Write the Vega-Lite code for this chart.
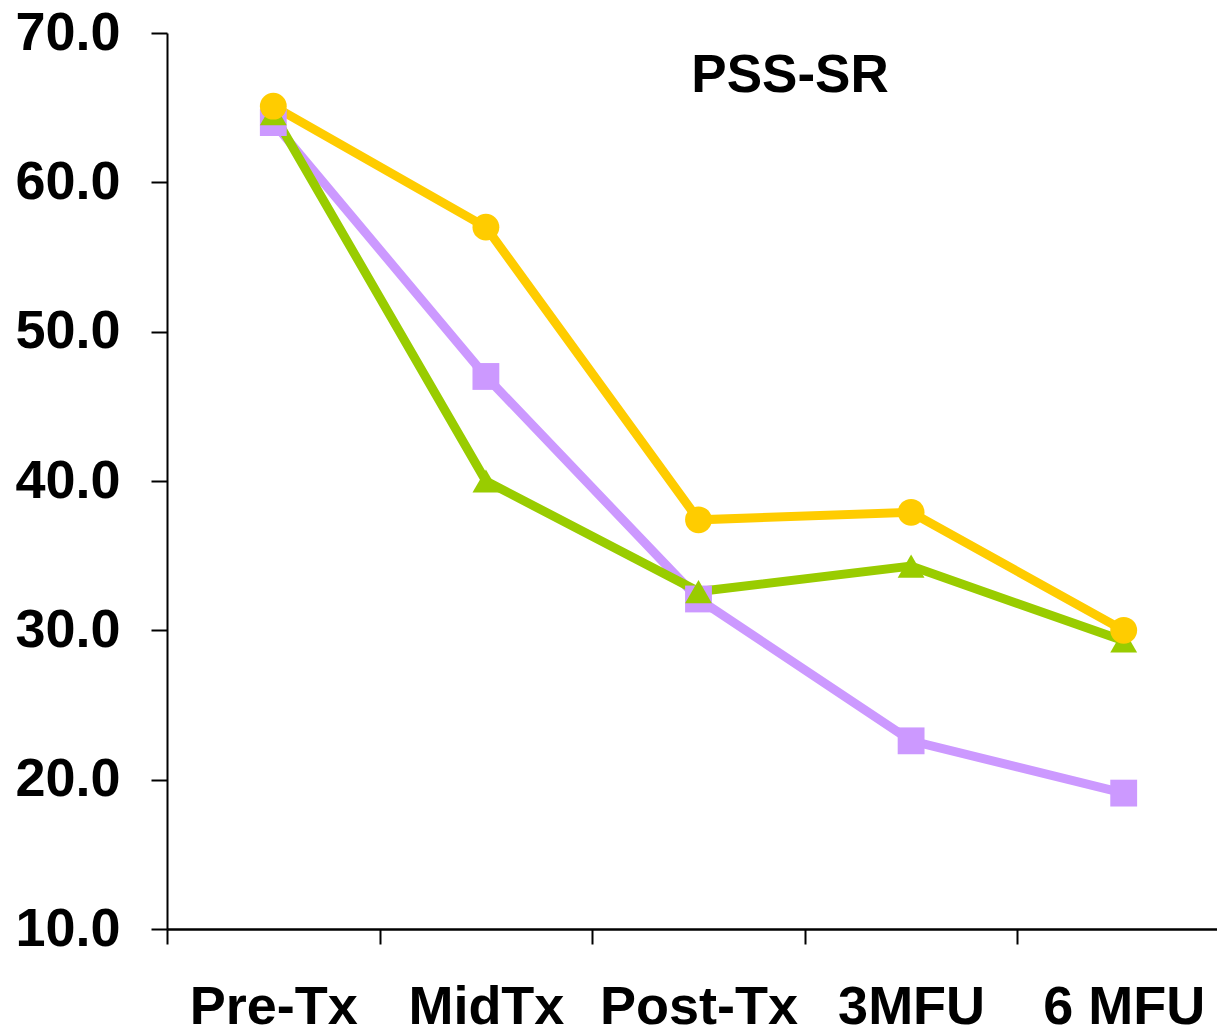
{
  "$schema": "https://vega.github.io/schema/vega-lite/v6.json",
  "width": 1050,
  "height": 896,
  "autosize": {"type": "none"},
  "padding": {"left": 167, "top": 33, "right": 0, "bottom": 106},
  "background": "white",
  "config": {"view": {"stroke": null}},
  "title": {
    "text": "PSS-SR",
    "font": "Liberation Sans",
    "fontSize": 53,
    "fontWeight": "bold",
    "color": "black",
    "anchor": "middle",
    "baseline": "alphabetic",
    "dx": 98,
    "offset": -139
  },
  "data": {
    "values": [
      {"time": "Pre-Tx", "group": "Series 1", "score": 64.0},
      {"time": "MidTx", "group": "Series 1", "score": 47.0},
      {"time": "Post-Tx", "group": "Series 1", "score": 32.1},
      {"time": "3MFU", "group": "Series 1", "score": 22.6},
      {"time": "6 MFU", "group": "Series 1", "score": 19.1},
      {"time": "Pre-Tx", "group": "Series 2", "score": 64.6},
      {"time": "MidTx", "group": "Series 2", "score": 40.0},
      {"time": "Post-Tx", "group": "Series 2", "score": 32.6},
      {"time": "3MFU", "group": "Series 2", "score": 34.3},
      {"time": "6 MFU", "group": "Series 2", "score": 29.3},
      {"time": "Pre-Tx", "group": "Series 3", "score": 65.1},
      {"time": "MidTx", "group": "Series 3", "score": 57.0},
      {"time": "Post-Tx", "group": "Series 3", "score": 37.4},
      {"time": "3MFU", "group": "Series 3", "score": 37.9},
      {"time": "6 MFU", "group": "Series 3", "score": 30.0}
    ]
  },
  "encoding": {
    "x": {
      "field": "time",
      "type": "nominal",
      "sort": ["Pre-Tx", "MidTx", "Post-Tx", "3MFU", "6 MFU"],
      "scale": {"type": "band", "range": [0, 1063], "paddingInner": 0, "paddingOuter": 0},
      "axis": {
        "title": null,
        "tickBand": "extent",
        "labelAngle": 0,
        "labelFont": "Liberation Sans",
        "labelFontSize": 54,
        "labelFontWeight": "bold",
        "labelColor": "black",
        "labelPadding": 36,
        "labelLimit": 0,
        "tickSize": 15,
        "tickWidth": 2,
        "tickColor": "black",
        "domainColor": "black",
        "domainWidth": 2.5,
        "grid": false
      }
    },
    "y": {
      "field": "score",
      "type": "quantitative",
      "scale": {"domain": [10, 70], "nice": false, "zero": false},
      "axis": {
        "title": null,
        "values": [10, 20, 30, 40, 50, 60, 70],
        "format": ".1f",
        "labelFont": "Liberation Sans",
        "labelFontSize": 54,
        "labelFontWeight": "bold",
        "labelColor": "black",
        "labelPadding": 31,
        "labelLimit": 0,
        "tickSize": 16,
        "tickWidth": 2,
        "tickColor": "black",
        "domainColor": "black",
        "domainWidth": 2,
        "grid": false
      }
    },
    "color": {
      "field": "group",
      "type": "nominal",
      "scale": {"domain": ["Series 1", "Series 2", "Series 3"], "range": ["#CC99FF", "#99CC00", "#FFCC00"]},
      "legend": null
    }
  },
  "layer": [
    {"mark": {"type": "line", "strokeWidth": 9}},
    {
      "mark": {"type": "point", "filled": true, "opacity": 1},
      "encoding": {
        "shape": {
          "field": "group",
          "type": "nominal",
          "scale": {"domain": ["Series 1", "Series 2", "Series 3"], "range": ["square", "triangle-up", "circle"]},
          "legend": null
        },
        "size": {"value": 720}
      }
    }
  ]
}
